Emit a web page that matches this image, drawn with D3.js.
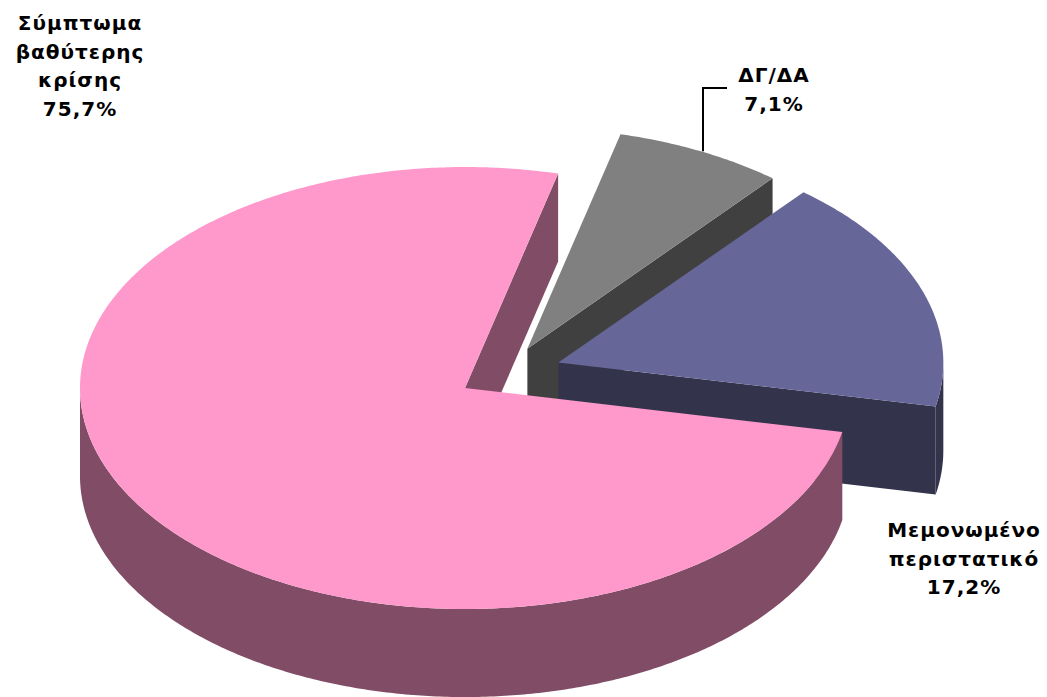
<!DOCTYPE html>
<html>
<head>
<meta charset="utf-8">
<script src="https://cdn.jsdelivr.net/npm/d3@7/dist/d3.min.js"></script>
<style>
  html, body { margin: 0; padding: 0; background: #ffffff; }
  svg { display: block; }
  text { font-family: Verdana, "DejaVu Sans", sans-serif; font-weight: bold; fill: #000; }
</style>
</head>
<body>
<svg id="chart" width="1047" height="697"></svg>
<script>
// ---- data ----
const categories = ["ΔΓ/ΔΑ", "Μεμονωμένο περιστατικό", "Σύμπτωμα βαθύτερης κρίσης"];
const values = [7.1, 17.2, 75.7];
const percentLabels = ["7,1%", "17,2%", "75,7%"];
const labelLines = [["ΔΓ/ΔΑ"], ["Μεμονωμένο", "περιστατικό"], ["Σύμπτωμα", "βαθύτερης", "κρίσης"]];
const topColors = ["#808080", "#666699", "#FF99CC"];
const sideColors = ["#404040", "#33334C", "#804C66"];

// ---- layout ----
const W = 1047, H = 697;
const cx = 505.7, cy = 373.3;      // pie centre
const rx = 385, ry = 221;          // ellipse radii of top face
const depth = 88;                  // thickness
const explodeFrac = [0.125, 0.145, 0.125];
const startDeg = 14;
const labelPos = [
  { x: 774, y: 82 },
  { x: 964, y: 537 },
  { x: 80, y: 30 }
];
const lineH = 28.5;

const svg = d3.select("#chart");

const pie = d3.pie().sort(null).value(d => d)
  .startAngle(startDeg * Math.PI / 180)
  .endAngle(startDeg * Math.PI / 180 + 2 * Math.PI);
const arcs = pie(values);

const line = d3.line().x(d => d[0]).y(d => d[1]);

function pt(c, a, dy) {
  return [c[0] + rx * Math.sin(a), c[1] - ry * Math.cos(a) + (dy || 0)];
}
function arcPts(c, a0, a1, dy) {
  const n = Math.max(2, Math.ceil(Math.abs(a1 - a0) / 0.01));
  return d3.range(n + 1).map(i => pt(c, a0 + (a1 - a0) * i / n, dy));
}

const g = svg.append("g");

arcs.forEach((d, i) => {
  const mid = (d.startAngle + d.endAngle) / 2;
  const e = explodeFrac[i];
  const c = [cx + e * rx * Math.sin(mid), cy - e * ry * Math.cos(mid)];
  const a0 = d.startAngle, a1 = d.endAngle;
  const sg = g.append("g").attr("class", "slice");

  // visible radial faces
  const faces = [];
  if (Math.sin(a0) < 0) faces.push(a0);
  if (Math.sin(a1) > 0) faces.push(a1);
  faces.forEach(a => {
    const p = pt(c, a);
    const poly = [c, p, [p[0], p[1] + depth], [c[0], c[1] + depth]];
    sg.append("path").attr("d", line(poly) + "Z").attr("fill", sideColors[i]);
  });

  // outer curved side (front half: PI/2 .. 3PI/2, with wrap)
  [0, 2 * Math.PI].forEach(off => {
    const lo = Math.max(a0, Math.PI / 2 + off), hi = Math.min(a1, 3 * Math.PI / 2 + off);
    if (hi > lo) {
      const topArc = arcPts(c, lo, hi, 0);
      const botArc = arcPts(c, hi, lo, depth);
      sg.append("path").attr("d", line(topArc.concat(botArc)) + "Z").attr("fill", sideColors[i]);
    }
  });

  // top face
  const topPts = [c].concat(arcPts(c, a0, a1, 0));
  sg.append("path").attr("d", line(topPts) + "Z").attr("fill", topColors[i]);
});

// labels
const lg = svg.append("g");
arcs.forEach((d, i) => {
  const lines = labelLines[i].concat([percentLabels[i]]);
  const t = lg.append("text")
    .attr("text-anchor", "middle")
    .attr("font-size", 20)
    .attr("letter-spacing", "1px");
  lines.forEach((s, k) => {
    t.append("tspan").attr("x", labelPos[i].x).attr("y", labelPos[i].y + k * lineH).text(s);
  });
});

// leader line for ΔΓ/ΔΑ
{
  const d = arcs[0];
  const mid = (d.startAngle + d.endAngle) / 2;
  const e = explodeFrac[0];
  const c = [cx + e * rx * Math.sin(mid), cy - e * ry * Math.cos(mid)];
  const rim = pt(c, mid);
  const pts = [[703, rim[1]], [703, 88], [727, 88]];
  lg.append("path").attr("d", line(pts)).attr("fill", "none").attr("stroke", "#000").attr("stroke-width", 2);
}
</script>
</body>
</html>
